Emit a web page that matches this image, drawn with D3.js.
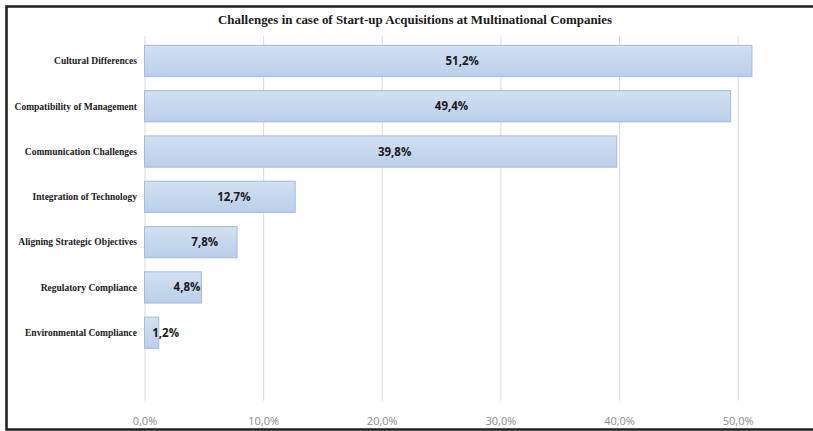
<!DOCTYPE html>
<html>
<head>
<meta charset="utf-8">
<script src="https://cdn.jsdelivr.net/npm/d3@7"></script>
<style>
  body { margin: 0; background: #fff; }
  svg { display: block; }
</style>
</head>
<body>
<svg width="813" height="431"></svg>
<script>
// chart data
var categories = ["Cultural Differences", "Compatibility of Management", "Communication Challenges",
    "Integration of Technology", "Aligning Strategic Objectives", "Regulatory Compliance", "Environmental Compliance"];
var values = [51.2, 49.4, 39.8, 12.7, 7.8, 4.8, 1.2];
var tickValues = [0, 10, 20, 30, 40, 50];
var title = "Challenges in case of Start-up Acquisitions at Multinational Companies";

var svg = d3.select("svg"),
    plotLeft = 144.5,
    plotTop = 38.3,
    step = 45.3,
    plotBottom = plotTop + step * 8;

var x = d3.scaleLinear()
    .domain([0, 50])
    .range([plotLeft, 737.7]);

// 8 slots, last one stays empty like in the original
var y = d3.scaleBand()
    .domain(categories)
    .range([plotTop, plotTop + step * categories.length])
    .paddingInner(0.31)
    .paddingOuter(0.155);

var fmt = function(v) { return d3.format(".1f")(v).replace(".", ",") + "%"; };

var defs = svg.append("defs");
var grad = defs.append("linearGradient")
    .attr("id", "barGrad")
    .attr("x1", 0).attr("y1", 0).attr("x2", 0).attr("y2", 1);
grad.append("stop").attr("offset", "0%").attr("stop-color", "#d3e1f2");
grad.append("stop").attr("offset", "100%").attr("stop-color", "#b9cfea");

// frame
svg.append("path")
    .attr("d", "M813,6.5 H6.5 V429.5 H813")
    .attr("fill", "none")
    .attr("stroke", "#1e1e1e")
    .attr("stroke-width", 2.5);

svg.append("text")
    .attr("x", 415)
    .attr("y", 24)
    .attr("text-anchor", "middle")
    .attr("font-family", "Liberation Serif")
    .attr("font-weight", "bold")
    .attr("font-size", 12.5)
    .attr("textLength", 394)
    .attr("lengthAdjust", "spacingAndGlyphs")
    .attr("fill", "#1a1a1a")
    .text(title);

// gridlines + ticks
var xAxis = svg.append("g")
    .attr("transform", "translate(0," + plotBottom + ")")
    .call(d3.axisBottom(x).tickValues(tickValues).tickSize(-(plotBottom - 36)).tickFormat(fmt));
xAxis.select(".domain").remove();
xAxis.selectAll(".tick line").attr("stroke", "#dadada");
xAxis.selectAll(".tick text")
    .attr("y", 17)
    .attr("fill", "#8a8a8a")
    .attr("font-family", "Open Sans")
    .attr("font-size", 11);

svg.append("g").selectAll("rect")
    .data(values)
    .enter().append("rect")
    .attr("x", x(0))
    .attr("y", function(d, i) { return y(categories[i]); })
    .attr("width", function(d) { return x(d) - x(0); })
    .attr("height", y.bandwidth())
    .attr("fill", "url(#barGrad)")
    .attr("stroke", "#a3bcdc")
    .attr("stroke-width", 1);

svg.append("g").selectAll("text")
    .data(values)
    .enter().append("text")
    .attr("x", function(d) { return (x(d) + x(0)) / 2 + 14; })
    .attr("y", function(d, i) { return y(categories[i]) + y.bandwidth() / 2; })
    .attr("dy", "0.35em")
    .attr("text-anchor", "middle")
    .attr("font-family", "Open Sans")
    .attr("font-weight", "bold")
    .attr("font-size", 11.5)
    .attr("fill", "#1a1a1a")
    .text(fmt);

// category labels
svg.append("g").selectAll("text")
    .data(categories)
    .enter().append("text")
    .attr("x", 137)
    .attr("y", function(d) { return y(d) + y.bandwidth() / 2; })
    .attr("dy", "0.35em")
    .attr("text-anchor", "end")
    .attr("font-family", "Liberation Serif")
    .attr("font-weight", "bold")
    .attr("font-size", 9.5)
    .attr("fill", "#1a1a1a")
    .text(function(d) { return d; });
</script>
</body>
</html>
